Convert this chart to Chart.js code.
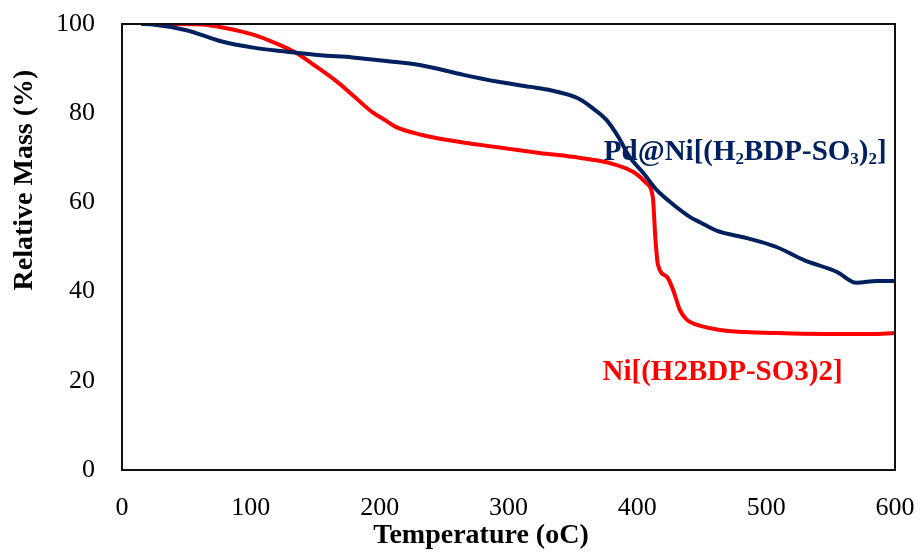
<!DOCTYPE html>
<html>
<head>
<meta charset="utf-8">
<script src="https://cdn.jsdelivr.net/npm/chart.js@4"></script>
<style>
  html, body { margin: 0; padding: 0; background: #fff; }
  #wrap { width: 923px; height: 556px; }
</style>
</head>
<body>
<div id="wrap"><canvas id="tgaChart" width="923" height="556"></canvas></div>
<script>
// TGA curves
const tempPd = [15, 24, 50, 76, 102, 128, 154, 179, 205, 231, 265, 291, 317, 330, 355, 365, 376, 385, 394, 405, 415, 425, 441, 449, 462, 485, 508, 529, 555, 570, 586, 600];
const massPd = [100, 99.9, 98.6, 96.2, 94.7, 93.8, 93, 92.5, 91.7, 90.8, 88.6, 87.1, 85.9, 85.3, 83.2, 81.2, 78.5, 74.8, 70.2, 66.5, 62.8, 60.2, 56.7, 55.5, 53.6, 52, 50, 47.1, 44.4, 42, 42.4, 42.4];

const tempNi = [15, 40, 62, 80, 103, 120, 134, 150, 168, 180, 194, 205, 212, 233, 250, 278, 324, 355, 376, 397, 407, 412, 414, 416, 423, 428, 433, 438, 441, 449, 464, 508, 547, 581, 600];
const massNi = [100, 100, 99.9, 99.1, 97.5, 95.6, 93.7, 90.6, 86.8, 83.8, 80.3, 78.3, 77, 75.1, 74.1, 72.9, 71.1, 70, 69, 66.8, 64.3, 61.2, 52, 46, 43.3, 40.2, 35.9, 33.8, 33.2, 32.3, 31.4, 30.7, 30.5, 30.5, 30.7];

const xTicks = [0, 100, 200, 300, 400, 500, 600];
const yTicks = [0, 20, 40, 60, 80, 100];

const NAVY = "#002060";
const RED = "#FF0000";
const SERIF = "'Liberation Serif', 'Times New Roman', serif";

function toPoints(xs, ys) {
  return xs.map((x, i) => ({ x: x, y: ys[i] }));
}

// Series labels: [text, subscript?] pieces, anchored in data coords
const seriesLabels = [
  { color: NAVY, at: { x: 374, y: 71.7 }, parts: [["Pd@Ni[(H", false], ["2", true], ["BDP-SO", false], ["3", true], [")", false], ["2", true], ["]", false]] },
  { color: RED, at: { x: 373, y: 22.4 }, parts: [["Ni[(H2BDP-SO3)2]", false]] },
];

// Draws the frame, axis titles and the curve labels
const decorPlugin = {
  id: "decor",
  afterDraw(chart) {
    const ctx = chart.ctx;
    const a = chart.chartArea;
    const xs = chart.scales.x;
    const ys = chart.scales.y;
    ctx.save();

    ctx.strokeStyle = "#111";
    ctx.lineWidth = 2;
    ctx.strokeRect(a.left, a.top, a.right - a.left, a.bottom - a.top);

    ctx.fillStyle = "#000";
    ctx.font = "bold 28px " + SERIF;
    ctx.textAlign = "center";
    ctx.textBaseline = "middle";
    ctx.fillText("Temperature (oC)", 481, 536);

    ctx.save();
    ctx.translate(25, 180);
    ctx.rotate(-Math.PI / 2);
    ctx.fillText("Relative Mass (%)", 0, 0);
    ctx.restore();

    seriesLabels.forEach((lab) => {
      let px = xs.getPixelForValue(lab.at.x);
      const py = ys.getPixelForValue(lab.at.y);
      ctx.fillStyle = lab.color;
      ctx.textAlign = "left";
      ctx.textBaseline = "alphabetic";
      lab.parts.forEach(([txt, sub]) => {
        ctx.font = sub ? "bold 17px " + SERIF : "bold 29px " + SERIF;
        ctx.fillText(txt, px, py + (sub ? 14 : 10));
        px += ctx.measureText(txt).width;
      });
    });

    ctx.restore();
  },
};

const ctx = document.getElementById("tgaChart").getContext("2d");
const tgaChart = new Chart(ctx, {
  type: "line",
  data: {
    datasets: [
      {
        label: "Pd@Ni[(H2BDP-SO3)2]",
        data: toPoints(tempPd, massPd),
        borderColor: NAVY,
        borderWidth: 4,
        pointRadius: 0,
        cubicInterpolationMode: "monotone",
        fill: false,
      },
      {
        label: "Ni[(H2BDP-SO3)2]",
        data: toPoints(tempNi, massNi),
        borderColor: RED,
        borderWidth: 4,
        pointRadius: 0,
        cubicInterpolationMode: "monotone",
        fill: false,
      },
    ],
  },
  options: {
    responsive: false,
    animation: false,
    layout: { padding: { left: 0, top: 24, right: 28, bottom: 0 } },
    plugins: { legend: { display: false }, tooltip: { enabled: false } },
    scales: {
      x: {
        type: "linear",
        min: 0,
        max: 600,
        grid: { display: false, drawTicks: false },
        border: { display: false },
        afterBuildTicks: (s) => { s.ticks = xTicks.map((v) => ({ value: v })); },
        afterFit: (s) => { s.height = 86; s.paddingLeft = 0; s.paddingRight = 0; },
        ticks: { padding: 23, color: "#000", maxRotation: 0, font: { family: SERIF, size: 26 } },
      },
      y: {
        min: 0,
        max: 100,
        grid: { display: false, drawTicks: false },
        border: { display: false },
        afterBuildTicks: (s) => { s.ticks = yTicks.map((v) => ({ value: v })); },
        afterFit: (s) => { s.width = 122; s.paddingTop = 0; s.paddingBottom = 0; },
        ticks: { padding: 27, color: "#000", font: { family: SERIF, size: 26 } },
      },
    },
  },
  plugins: [decorPlugin],
});
</script>
</body>
</html>
